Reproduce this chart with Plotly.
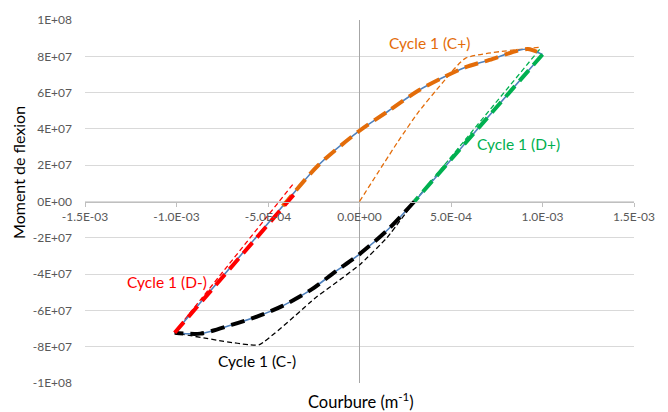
import plotly.graph_objects as go

# ---- data (curvature in m^-1, moment) ----
upper_x = [-1.01e-3, -0.39e-3, -0.225e-3, 0.0, 0.16e-3, 0.32e-3, 0.45e-3, 0.58e-3, 0.71e-3, 0.86e-3, 0.92e-3, 1.0e-3]
upper_y = [-7.23e7, 0.1e7, 2.0e7, 3.9e7, 5.0e7, 6.1e7, 6.8e7, 7.4e7, 7.8e7, 8.3e7, 8.4e7, 8.1e7]
lower_x = [1.0e-3, 0.65e-3, 0.30e-3, 0.16e-3, 0.0, -0.13e-3, -0.27e-3, -0.42e-3, -0.55e-3, -0.70e-3, -0.87e-3, -1.01e-3]
lower_y = [8.1e7, 4.05e7, 0.0, -1.5e7, -2.9e7, -3.85e7, -4.9e7, -5.75e7, -6.3e7, -6.8e7, -7.28e7, -7.23e7]

cplus_x = [-0.42e-3, -0.39e-3, -0.225e-3, 0.0, 0.16e-3, 0.32e-3, 0.45e-3, 0.58e-3, 0.71e-3, 0.86e-3, 0.92e-3, 0.97e-3]
cplus_y = [-0.25e7, 0.1e7, 2.0e7, 3.9e7, 5.0e7, 6.1e7, 6.8e7, 7.4e7, 7.8e7, 8.3e7, 8.4e7, 8.25e7]
cplus_model_x = [0.0, 0.21e-3, 0.32e-3, 0.45e-3, 0.58e-3, 0.99e-3]
cplus_model_y = [0.0, 3.3e7, 4.9e7, 6.5e7, 7.9e7, 8.5e7]

dplus_x = [1.0e-3, 0.30e-3]
dplus_y = [8.1e7, 0.0]
dplus_model_x = [0.30e-3, 0.99e-3]
dplus_model_y = [0.0, 8.45e7]

cminus_x = [0.30e-3, 0.16e-3, 0.0, -0.13e-3, -0.27e-3, -0.42e-3, -0.55e-3, -0.70e-3, -0.87e-3, -1.01e-3]
cminus_y = [0.0, -1.5e7, -2.9e7, -3.85e7, -4.9e7, -5.75e7, -6.3e7, -6.8e7, -7.28e7, -7.23e7]
cminus_model_x = [0.30e-3, 0.15e-3, 0.0, -0.24e-3, -0.55e-3, -1.01e-3]
cminus_model_y = [0.0, -2.0e7, -3.5e7, -5.3e7, -7.9e7, -7.23e7]

dminus_x = [-1.01e-3, -0.34e-3]
dminus_y = [-7.23e7, 0.6e7]
dminus_model_x = [-1.01e-3, -0.36e-3]
dminus_model_y = [-7.2e7, 1.0e7]

x_ticks = [-1.5e-3, -1.0e-3, -0.5e-3, 0.0, 0.5e-3, 1.0e-3, 1.5e-3]
x_ticktext = ["-1.5E-03", "-1.0E-03", "-5.0E-04", "0.0E+00", "5.0E-04", "1.0E-03", "1.5E-03"]
y_ticks = [1e8, 8e7, 6e7, 4e7, 2e7, 0, -2e7, -4e7, -6e7, -8e7, -1e8]
y_ticktext = ["1E+08", "8E+07", "6E+07", "4E+07", "2E+07", "0E+00", "-2E+07", "-4E+07", "-6E+07", "-8E+07", "-1E+08"]

labels = ["Cycle 1 (C+)", "Cycle 1 (D+)", "Cycle 1 (D-)", "Cycle 1 (C-)"]
label_x = [0.38e-3, 0.87e-3, -1.05e-3, -0.56e-3]
label_y = [8.75e7, 3.15e7, -4.45e7, -8.8e7]
label_colors = ["#E36C09", "#00B050", "#FF0000", "#000000"]

FONT = "Lato"
BLUE = "#4F81BD"
ORANGE = "#E36C09"
GREEN = "#00B050"
RED = "#FF0000"
BLACK = "#000000"

fig = go.Figure()

thin = dict(width=1.3, dash="5px,3px")
thick = dict(width=4, dash="14px,7px")

fig.add_trace(go.Scatter(x=cplus_model_x, y=cplus_model_y, mode="lines",
                         line=dict(color=ORANGE, shape="spline", smoothing=0.5, **thin)))
fig.add_trace(go.Scatter(x=dplus_model_x, y=dplus_model_y, mode="lines", line=dict(color=GREEN, **thin)))
fig.add_trace(go.Scatter(x=cminus_model_x, y=cminus_model_y, mode="lines",
                         line=dict(color=BLACK, shape="spline", smoothing=0.3, **thin)))
fig.add_trace(go.Scatter(x=dminus_model_x, y=dminus_model_y, mode="lines", line=dict(color=RED, **thin)))

fig.add_trace(go.Scatter(x=upper_x, y=upper_y, mode="lines",
                         line=dict(color=BLUE, width=1.6, shape="spline", smoothing=0.8)))
fig.add_trace(go.Scatter(x=lower_x, y=lower_y, mode="lines",
                         line=dict(color=BLUE, width=1.6, shape="spline", smoothing=0.8)))

fig.add_trace(go.Scatter(x=cplus_x, y=cplus_y, mode="lines",
                         line=dict(color=ORANGE, shape="spline", smoothing=0.8, **thick)))
fig.add_trace(go.Scatter(x=dplus_x, y=dplus_y, mode="lines", line=dict(color=GREEN, **thick)))
fig.add_trace(go.Scatter(x=cminus_x, y=cminus_y, mode="lines",
                         line=dict(color=BLACK, shape="spline", smoothing=0.8, **thick)))
fig.add_trace(go.Scatter(x=dminus_x, y=dminus_y, mode="lines", line=dict(color=RED, **thick)))

for t, lx, ly, c in zip(labels, label_x, label_y, label_colors):
    fig.add_annotation(x=lx, y=ly, text=t, showarrow=False, xref="x", yref="y",
                       font=dict(family=FONT, size=15.5, color=c))

fig.add_annotation(x=0.502, y=-0.049, xref="paper", yref="paper", text="Courbure (m<sup>-1</sup>)",
                   showarrow=False, yanchor="middle", font=dict(family=FONT, size=16.5, color="#000000"))
fig.add_annotation(x=-0.12, y=0.579, xref="paper", yref="paper", text="Moment de flexion",
                   showarrow=False, textangle=-90, xanchor="center", yanchor="middle",
                   font=dict(family=FONT, size=16, color="#000000"))

fig.update_layout(
    width=668, height=412,
    margin=dict(l=85, r=34, t=15, b=29),
    paper_bgcolor="white", plot_bgcolor="white",
    showlegend=False,
    xaxis=dict(range=[-1.5e-3, 1.5e-3], tickvals=x_ticks, ticktext=x_ticktext,
               showgrid=False, zeroline=True, zerolinecolor="#A6A6A6", zerolinewidth=1,
               showline=True, linecolor="#BFBFBF", linewidth=1,
               anchor="free", position=0.5,
               ticks="outside", ticklen=4, tickcolor="#BFBFBF",
               tickfont=dict(family=FONT, size=12, color="#595959")),
    yaxis=dict(range=[-1e8, 1e8], tickvals=y_ticks, ticktext=y_ticktext,
               showgrid=True, gridcolor="#D9D9D9", gridwidth=1, zeroline=False,
               showline=False, ticks="", ticklabelstandoff=12,
               tickfont=dict(family=FONT, size=12, color="#595959")),
)

fig.write_html("out.html")
